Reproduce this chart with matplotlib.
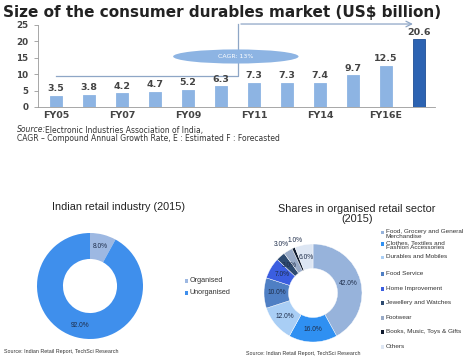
import matplotlib
matplotlib.use("Agg")
import matplotlib.pyplot as plt
import numpy as np
from matplotlib.patches import Ellipse, Rectangle

plt.rcParams['font.family'] = ['Liberation Sans', 'DejaVu Sans']

# ---------------- data ----------------
years = ["FY05", "FY06", "FY07", "FY08", "FY09", "FY10", "FY11", "FY13",
         "FY14", "FY15", "FY16E", "FY20F"]
year_labels = ["FY05", "", "FY07", "", "FY09", "", "FY11", "", "FY14", "", "FY16E", ""]
market_size = [3.5, 3.8, 4.2, 4.7, 5.2, 6.3, 7.3, 7.3, 7.4, 9.7, 12.5, 20.6]
cagr_text = "CAGR: 13%"

retail_cats = ["Organised", "Unorganised"]
retail_vals = [8.0, 92.0]

sector_cats = ["Food, Grocery and General\nMerchandise",
               "Clothes, Textiles and\nFashion Accessories",
               "Durables and Mobiles", "Food Service", "Home Improvement",
               "Jewellery and Watches", "Footwear", "Books, Music, Toys & Gifts",
               "Others"]
sector_vals = [42.0, 16.0, 12.0, 10.0, 7.0, 3.0, 3.0, 1.0, 6.0]

# ---------------- styling ----------------
W, H = 474, 359
fig = plt.figure(figsize=(W / 100, H / 100), dpi=100)
fig.patch.set_facecolor("white")

def px_axes(x0, y0, x1, y1):
    return fig.add_axes([x0 / W, 1 - y1 / H, (x1 - x0) / W, (y1 - y0) / H])

def fy(y):
    return 1 - y / H

def fx(x):
    return x / W

light_bar = "#8db4e3"
dark_bar = "#2c63b2"
wide = ["DejaVu Sans"]

# ---------------- top bar chart ----------------
ax = px_axes(38, 25, 435, 107)
x = np.arange(len(years))
colors = [light_bar] * (len(years) - 1) + [dark_bar]
edges = ["#8db4e3"] * (len(years) - 1) + ["#1f4f95"]
ax.bar(x, market_size, width=0.37, color=colors, edgecolor=edges, linewidth=0.6, zorder=2)
for xi, v in zip(x, market_size):
    ax.text(xi, v + 0.8, f"{v:.1f}", ha="center", va="bottom", fontsize=6.8,
            fontweight="bold", color="#444444", family=wide)
ax.set_xlim(-0.545, 11.485)
ax.set_ylim(0, 25)
ax.set_yticks([0, 5, 10, 15, 20, 25])
ax.set_yticklabels(["0", "5", "10", "15", "20", "25"], fontsize=6.3,
                   fontweight="bold", color="#444444", family=wide)
ax.set_xticks(x)
ax.set_xticklabels(year_labels, fontsize=6.8, fontweight="bold", color="#444444",
                   family=wide)
ax.tick_params(axis="y", length=3, width=0.6, color="#999999", pad=4)
ax.tick_params(axis="x", length=0, pad=3)
for s in ["top", "right"]:
    ax.spines[s].set_visible(False)
ax.spines["left"].set_color("#999999")
ax.spines["bottom"].set_color("#999999")
ax.spines["left"].set_linewidth(0.6)
ax.spines["bottom"].set_linewidth(0.6)
ax.set_facecolor("none")

# CAGR arrow path
arrow_col = "#8ea6c6"
ax.plot([0, 5.52, 5.52], [9.3, 9.3, 25.3], color=arrow_col, lw=0.9,
        clip_on=False, zorder=1)
ax.annotate("", xy=(10.9, 25.3), xytext=(5.52, 25.3),
            arrowprops=dict(arrowstyle="->", color=arrow_col, lw=0.9),
            annotation_clip=False)
ell = Ellipse((5.45, 15.4), 3.8, 4.3, facecolor="#8db4e3", edgecolor="none", zorder=3)
ax.add_patch(ell)
ax.text(5.45, 15.4, cagr_text, ha="center", va="center", fontsize=4.5,
        color="white", zorder=4, family=wide)

fig.text(fx(3), fy(13), "Size of the consumer durables market (US$ billion)",
         fontsize=11, fontweight="bold", color="#222222", ha="left", va="center",
         family=wide)

fig.text(fx(17), fy(130), "Source:", fontsize=5.5, style="italic", color="#333333",
         ha="left", va="center", family=wide)
fig.text(fx(45), fy(130), "Electronic Industries Association of India,", fontsize=5.5,
         color="#333333", ha="left", va="center", family=wide)
fig.text(fx(17), fy(138.5), "CAGR – Compound Annual Growth Rate, E : Estimated F : Forecasted",
         fontsize=5.5, color="#333333", ha="left", va="center", family=wide)

# ---------------- left donut ----------------
ax2 = px_axes(37, 233, 143, 339)
retail_colors = ["#9db8e2", "#3f8fec"]
w2, t2, a2 = ax2.pie(retail_vals, colors=retail_colors, startangle=90, counterclock=False,
                     wedgeprops=dict(width=0.49, edgecolor="none"),
                     autopct="%.1f%%", pctdistance=0.77,
                     textprops=dict(fontsize=4.8, color="#1e2d4a"))
ax2.set_xlim(-1, 1)
ax2.set_ylim(-1, 1)
ax2.set_aspect("equal")
fig.text(fx(118), fy(207), "Indian retail industry (2015)", fontsize=7.8,
         color="#222222", ha="center", va="center")
for i, (cat, col) in enumerate(zip(retail_cats, retail_colors)):
    yy = [281, 293][i]
    fig.patches.append(Rectangle((fx(184.5), fy(yy + 1.6)), 3.2 / W, 3.2 / H,
                                 transform=fig.transFigure, facecolor=col,
                                 edgecolor="none", figure=fig))
    fig.text(fx(189.5), fy(yy), cat, fontsize=5.2, color="#333333", ha="left", va="center")
fig.text(fx(4), fy(352), "Source: Indian Retail Report, TechSci Research", fontsize=3.9,
         color="#333333", ha="left", va="center")

# ---------------- right donut ----------------
ax3 = px_axes(264, 244, 362, 342)
sector_colors = ["#97b3db", "#2f90f2", "#a9cef5", "#4f7fc4", "#3b5ee0",
                 "#2d4a70", "#98aac7", "#0f1a2e", "#dde6f3"]
w3, t3, a3 = ax3.pie(sector_vals, colors=sector_colors, startangle=90, counterclock=False,
                     wedgeprops=dict(width=0.5, edgecolor="white", linewidth=0.3),
                     autopct="%.1f%%", pctdistance=0.74,
                     textprops=dict(fontsize=4.8, color="#1e2d4a"))
for i in (6, 7):
    wd = w3[i]
    ang = np.deg2rad((wd.theta1 + wd.theta2) / 2)
    r = 1.14 if i == 6 else 1.17
    a3[i].set_position((r * np.cos(ang) - (0.06 if i == 6 else -0.1), r * np.sin(ang)))
    a3[i].set_clip_on(False)
ax3.set_xlim(-1, 1)
ax3.set_ylim(-1, 1)
ax3.set_aspect("equal")
fig.text(fx(357), fy(214), "Shares in organised retail sector\n(2015)", fontsize=7.8,
         color="#222222", ha="center", va="center", linespacing=1.0)
legend_y = [232.5, 244, 257.5, 274, 289, 303, 318, 332, 347]
for cat, col, yy in zip(sector_cats, sector_colors, legend_y):
    fig.patches.append(Rectangle((fx(380.5), fy(yy + 1.6)), 3.2 / W, 3.2 / H,
                                 transform=fig.transFigure, facecolor=col,
                                 edgecolor="none", figure=fig))
    fig.text(fx(385.5), fy(yy - 3.3), cat, fontsize=4.6, color="#333333", ha="left",
             va="top", linespacing=0.85)
fig.text(fx(246), fy(353), "Source: Indian Retail Report, TechSci Research", fontsize=3.9,
         color="#333333", ha="left", va="center")

fig.savefig("out.png", dpi=100, facecolor="white")
